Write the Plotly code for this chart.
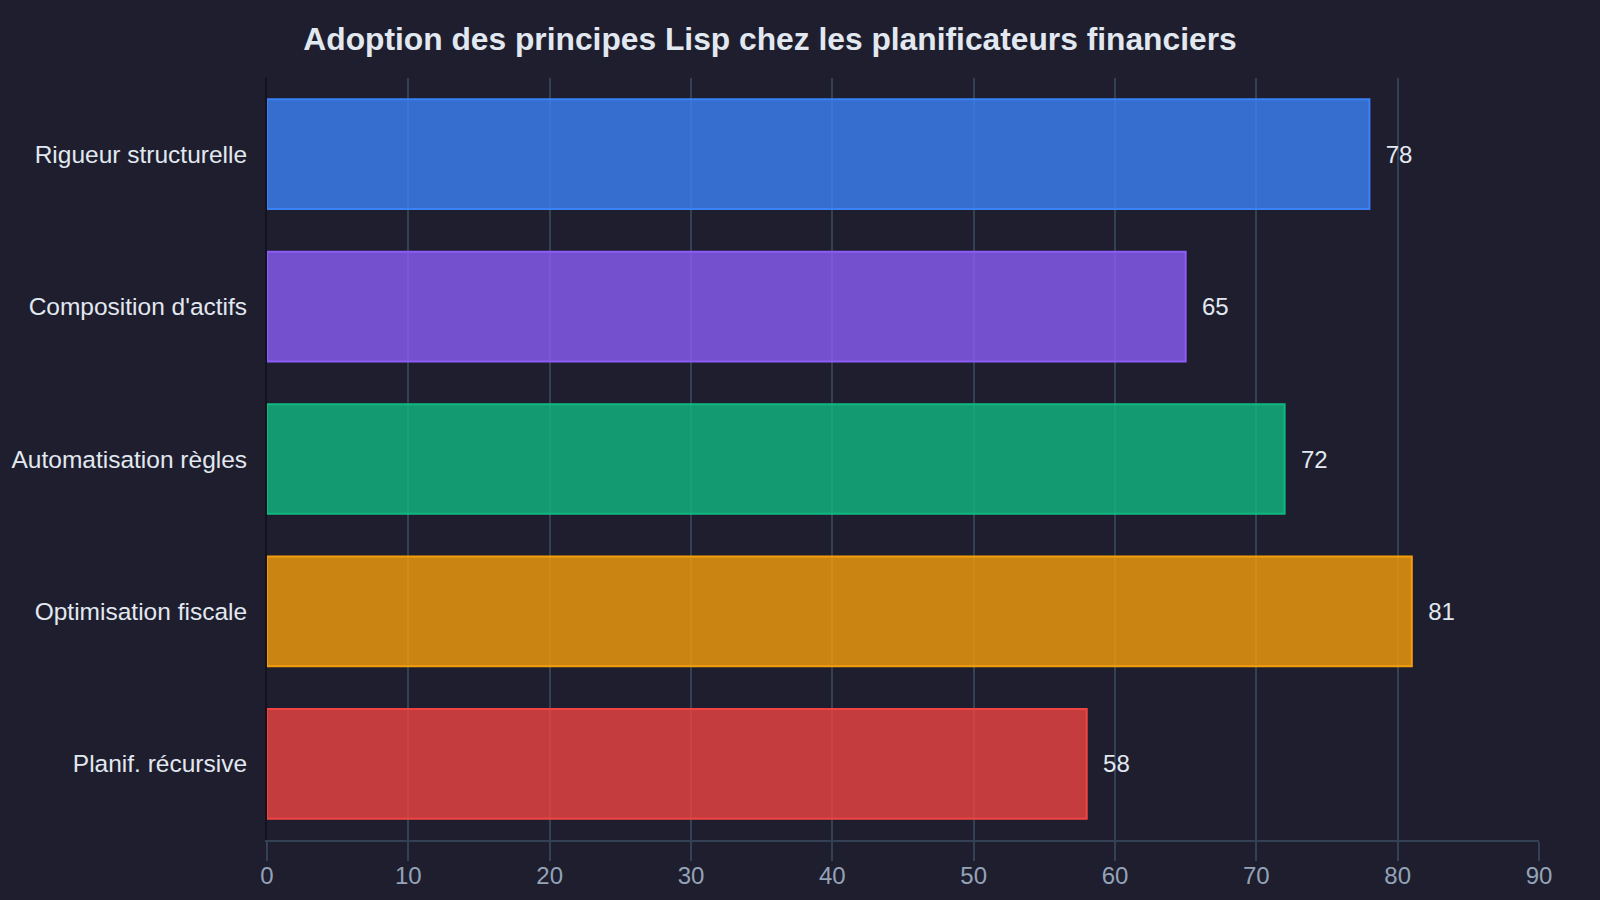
import plotly.graph_objects as go

categories = ["Rigueur structurelle", "Composition d'actifs", "Automatisation règles",
              "Optimisation fiscale", "Planif. récursive"]
values = [78, 65, 72, 81, 58]
fill_colors = ["rgba(59,130,246,0.8)", "rgba(139,92,246,0.8)", "rgba(16,185,129,0.8)",
               "rgba(245,158,11,0.8)", "rgba(239,68,68,0.8)"]
line_colors = ["#3b82f6", "#8b5cf6", "#10b981", "#f59e0b", "#ef4444"]
tick_vals = [0, 10, 20, 30, 40, 50, 60, 70, 80, 90]

BG = "#1e1e2e"
FONT = "Liberation Sans, Arial, sans-serif"

fig = go.Figure(go.Bar(
    y=categories,
    x=values,
    orientation="h",
    marker=dict(color=fill_colors, line=dict(color=line_colors, width=2)),
    text=[str(v) for v in values],
    texttemplate="  %{text}",
    textposition="outside",
    cliponaxis=False,
    textfont=dict(color="#e2e8f0", size=24, family=FONT),
    hoverinfo="skip",
))

fig.update_layout(
    width=1600, height=900,
    paper_bgcolor=BG, plot_bgcolor=BG,
    margin=dict(l=267, r=61, t=78, b=60),
    bargap=0.28,
    showlegend=False,
    font=dict(family=FONT, color="#e2e8f0"),
    title=dict(
        text="<b>Adoption des principes Lisp chez les planificateurs financiers</b>",
        font=dict(size=31.75, color="#e2e8f0", family=FONT),
        x=770 / 1600, xanchor="center", xref="container",
        y=1 - 39 / 900, yanchor="middle", yref="container",
    ),
    xaxis=dict(
        range=[0, 90], tickvals=tick_vals, showgrid=True,
        gridcolor="#334155", gridwidth=1.5, zeroline=False,
        showline=True, linecolor="#334155", linewidth=2,
        ticks="outside", ticklen=19, tickcolor="#334155", tickwidth=1.5,
        ticklabelstandoff=-6,
        tickfont=dict(size=24, color="#94a3b8", family=FONT),
        automargin=False,
    ),
    yaxis=dict(
        categoryorder="array", categoryarray=categories[::-1],
        range=[-0.5, 4.5], showgrid=False, zeroline=False,
        showline=True, linecolor="#13131c", linewidth=2,
        ticks="", ticklabelstandoff=13,
        tickfont=dict(size=24.5, color="#e2e8f0", family=FONT),
        automargin=False,
    ),
)

fig.write_html("out.html")
